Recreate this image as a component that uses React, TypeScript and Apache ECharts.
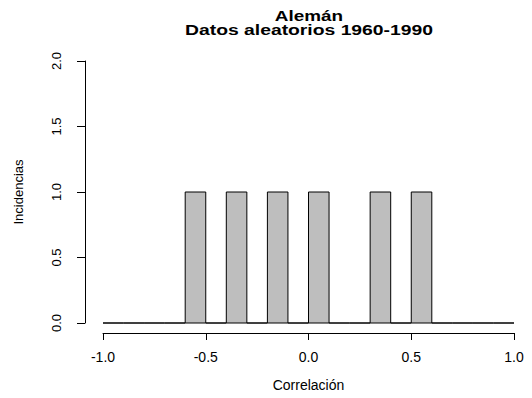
import React, { useEffect, useRef } from "react";
import * as echarts from "echarts";

const breaks = [-1.0, -0.9, -0.8, -0.7, -0.6, -0.5, -0.4, -0.3, -0.2, -0.1, 0.0, 0.1, 0.2, 0.3, 0.4, 0.5, 0.6, 0.7, 0.8, 0.9, 1.0];
const counts = [0, 0, 0, 0, 1, 0, 1, 0, 1, 0, 1, 0, 0, 1, 0, 1, 0, 0, 0, 0];
const titleLines = ["Alemán", "Datos aleatorios 1960-1990"];
const xName = "Correlación";
const yName = "Incidencias";

export default function App() {
  const ref = useRef<HTMLDivElement>(null);
  useEffect(() => {
    if (!ref.current) return;
    const chart = echarts.init(ref.current, null, { renderer: "svg" });
    const data = counts.map((c, i) => [breaks[i], breaks[i + 1], c]);
    const font = "Liberation Sans, Arial, Helvetica, sans-serif";
    chart.setOption({
      animation: false,
      backgroundColor: "#ffffff",
      textStyle: { fontFamily: font },
      grid: { left: 103, right: 18, top: 61, bottom: 75, containLabel: false },
      xAxis: {
        type: "value",
        min: -1,
        max: 1,
        interval: 0.5,
        offset: 10,
        position: "bottom",
        splitLine: { show: false },
        axisLine: { show: true, onZero: false, lineStyle: { color: "#000", width: 1 } },
        axisTick: { show: true, length: 7, lineStyle: { color: "#000" } },
        axisLabel: {
          color: "#000",
          fontSize: 14,
          margin: 17,
          fontFamily: font,
          formatter: (v: number) => v.toFixed(1),
        },
        name: xName,
        nameLocation: "middle",
        nameGap: 45,
        nameTextStyle: { color: "#000", fontSize: 14, fontFamily: font },
      },
      yAxis: {
        type: "value",
        min: 0,
        max: 2,
        interval: 0.5,
        offset: 18,
        position: "left",
        splitLine: { show: false },
        axisLine: { show: true, onZero: false, lineStyle: { color: "#000", width: 1 } },
        axisTick: { show: true, length: 8, lineStyle: { color: "#000" } },
        axisLabel: {
          color: "#000",
          fontSize: 13,
          rotate: 90,
          margin: 22,
          fontFamily: font,
          formatter: (v: number) => v.toFixed(1),
        },
        name: yName,
        nameLocation: "middle",
        nameRotate: 90,
        nameGap: 60,
        nameTextStyle: { color: "#000", fontSize: 13, fontFamily: font },
      },
      graphic: [
        {
          type: "text",
          x: 309,
          y: 16,
          scaleX: 1.35,
          style: {
            text: titleLines[0],
            textAlign: "center",
            textVerticalAlign: "middle",
            font: `bold 14px ${font}`,
            fill: "#000",
          },
        },
        {
          type: "text",
          x: 309,
          y: 30,
          scaleX: 1.38,
          style: {
            text: titleLines[1],
            textAlign: "center",
            textVerticalAlign: "middle",
            font: `bold 14px ${font}`,
            fill: "#000",
          },
        },
      ],
      series: [
        {
          type: "custom",
          clip: false,
          encode: { x: [0, 1], y: 2 },
          data,
          renderItem: (params: any, api: any) => {
            const p0 = api.coord([api.value(0), 0]);
            const p1 = api.coord([api.value(1), api.value(2)]);
            return {
              type: "rect",
              shape: {
                x: p0[0],
                y: p1[1],
                width: p1[0] - p0[0],
                height: p0[1] - p1[1],
              },
              style: { fill: "#BEBEBE", stroke: "#000", lineWidth: 1 },
            };
          },
        },
      ],
    });
    return () => chart.dispose();
  }, []);
  return (
    <div
      ref={ref}
      style={{ position: "fixed", left: 0, top: 0, width: 532, height: 398 }}
    />
  );
}
